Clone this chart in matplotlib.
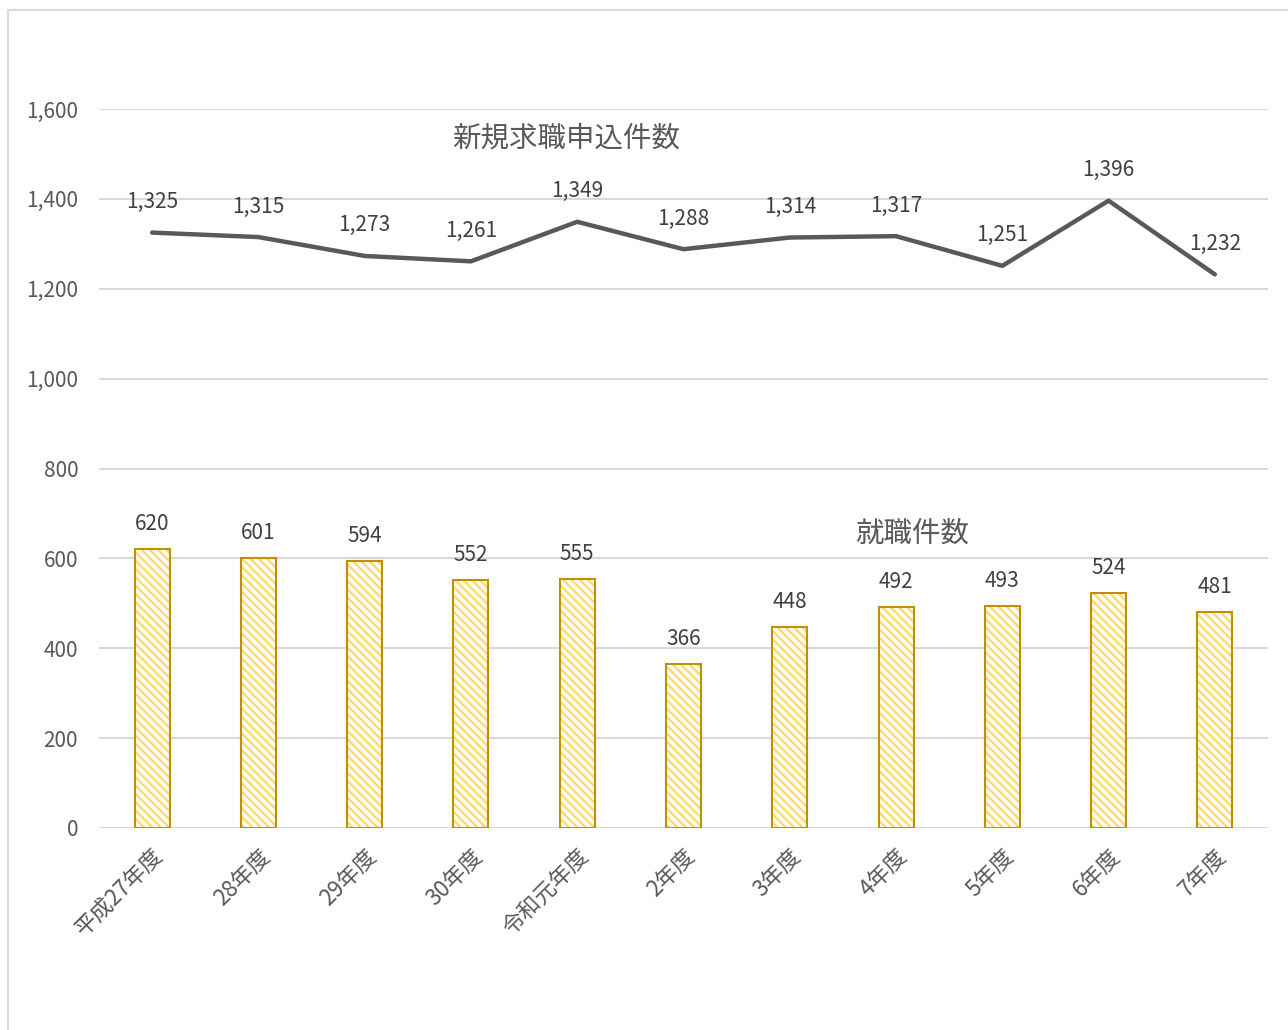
import matplotlib.pyplot as plt
from matplotlib.patches import Rectangle

plt.rcParams['font.family'] = ['Noto Sans CJK JP', 'DejaVu Sans']
plt.rcParams['hatch.linewidth'] = 1.6

years = ['平成27年度', '28年度', '29年度', '30年度', '令和元年度', '2年度',
         '3年度', '4年度', '5年度', '6年度', '7年度']
applications = [1325, 1315, 1273, 1261, 1349, 1288, 1314, 1317, 1251, 1396, 1232]
placements = [620, 601, 594, 552, 555, 366, 448, 492, 493, 524, 481]

text_gray = '#595959'
grid_gray = '#D9D9D9'

fig = plt.figure(figsize=(12.88, 10.30), dpi=100)
ax = fig.add_axes([99 / 1288, 1 - 828 / 1030, 1169 / 1288, 719 / 1030])

# outer chart border
fig.patches.append(Rectangle((8 / 1288, -0.1), 1.2, 1.1 - 10 / 1030,
                             transform=fig.transFigure, fill=False,
                             edgecolor=grid_gray, linewidth=1.5))

x = list(range(len(years)))

# hatched bars: stripes first, then the outline
ax.bar(x, placements, width=0.33, color='white', hatch='\\\\\\\\',
       edgecolor='#FFD966', linewidth=0, zorder=2)
ax.bar(x, placements, width=0.33, fill=False, edgecolor='#BF9000',
       linewidth=1.5, zorder=3)
for xi, v in zip(x, placements):
    ax.annotate(f'{v:,}', (xi, v), xytext=(0, 18), textcoords='offset points',
                ha='center', va='center', fontsize=15, color='#404040')

ax.plot(x, applications, color=text_gray, linewidth=3.2, zorder=4,
        solid_capstyle='round')
for xi, v in zip(x, applications):
    ax.annotate(f'{v:,}', (xi, v), xytext=(0, 22), textcoords='offset points',
                ha='center', va='center', fontsize=15, color='#404040')

ax.text(3.9, 1535, '新規求職申込件数', ha='center', va='center',
        fontsize=20.5, color=text_gray)
ax.text(7.15, 655, '就職件数', ha='center', va='center',
        fontsize=20.5, color=text_gray)

ax.set_xlim(-0.5, len(years) - 0.5)
ax.set_ylim(0, 1600)
ax.set_yticks(range(0, 1601, 200))
ax.set_yticklabels([f'{t:,}' for t in range(0, 1601, 200)])
ax.yaxis.grid(True, color=grid_gray, linewidth=1.5)
ax.set_axisbelow(True)
for s in ax.spines.values():
    s.set_visible(False)
ax.tick_params(axis='y', length=0, pad=15, labelsize=15, labelcolor=text_gray)
ax.set_xticks(x)
ax.set_xticklabels(years, rotation=45, ha='right', rotation_mode='anchor')
ax.tick_params(axis='x', length=0, pad=12, labelsize=16, labelcolor=text_gray)

fig.savefig('out.png', dpi=100)
